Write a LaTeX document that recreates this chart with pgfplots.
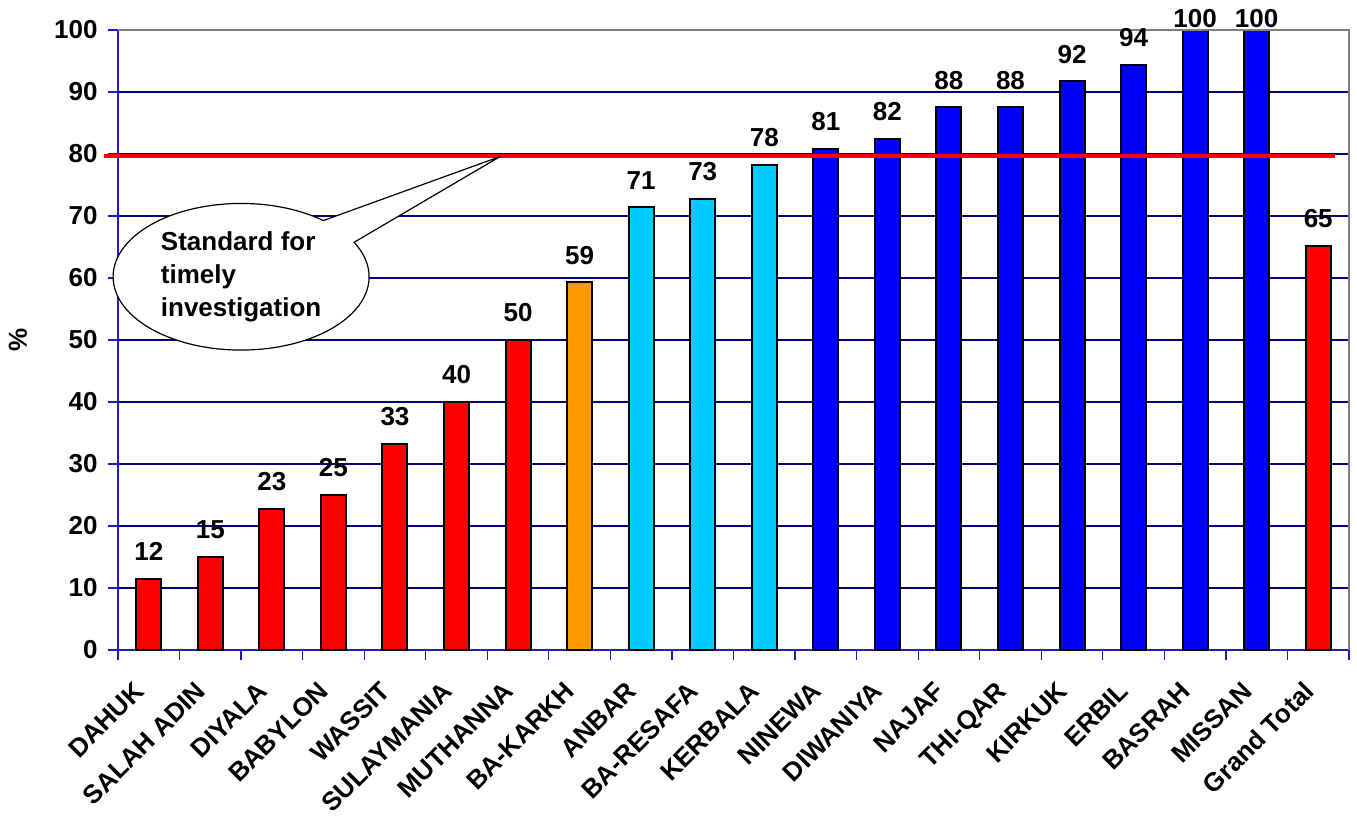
\documentclass[border=0pt]{standalone}
\usepackage{fontspec}
\setmainfont{Liberation Sans}
\usepackage{pgfplots}
\pgfplotsset{compat=1.18}
\usetikzlibrary{calc,shapes.callouts}
\definecolor{barred}{RGB}{255,0,0}
\definecolor{barorange}{RGB}{255,153,0}
\definecolor{barcyan}{RGB}{0,204,255}
\definecolor{barblue}{RGB}{0,0,255}
\definecolor{gridnavy}{RGB}{0,0,128}
\definecolor{axisblue}{RGB}{30,30,190}
\begin{document}
\begin{tikzpicture}[font=\bfseries\fontsize{13}{16.5}\selectfont]
\begin{axis}[name=ax,
  width=615.5pt, height=310pt, scale only axis,
  xmin=-0.5, xmax=19.5, ymin=0, ymax=100,
  ytick={0,10,...,100},
  xtick={0,...,19},
  xticklabels={DAHUK,SALAH ADIN,DIYALA,BABYLON,WASSIT,SULAYMANIA,MUTHANNA,BA-KARKH,ANBAR,BA-RESAFA,KERBALA,NINEWA,DIWANIYA,NAJAF,THI-QAR,KIRKUK,ERBIL,BASRAH,MISSAN,Grand Total},
  minor xtick={-0.5,0.5,...,19.5},
  xticklabel style={xshift=-8pt, yshift=-7pt, rotate=45, anchor=north east, inner sep=2pt},
  yticklabel style={inner sep=2pt, xshift=-3pt},
  /pgf/number format/assume math mode=true,
  axis x line*=bottom, axis y line*=left,
  x axis line style={-, draw=axisblue, line width=0.8pt},
  y axis line style={-, draw=axisblue, line width=0.8pt},
  tick align=outside, major tick length=5pt, minor tick length=5pt,
  tick style={draw=axisblue, line width=0.6pt},
  major x tick style={draw=none},
  ymajorgrids, major grid style={draw=gridnavy, line width=0.6pt},
  ylabel={\%},
  ylabel style={at={(axis description cs:-0.0812,0.5)}, anchor=center},
  ybar, bar width=12.5pt, bar shift=0pt,
  every axis plot/.append style={draw=black, line width=1pt},
  point meta=explicit symbolic,
  nodes near coords,
  nodes near coords style={inner sep=0pt, anchor=south, yshift=8.5pt, text=black},
  clip=false,
]
\addplot[fill=barred] table[meta=lab] {
x y lab
0 11.5 12
1 15.0 15
2 22.7 23
3 25.0 25
4 33.3 33
5 40.0 40
6 50.0 50
19 65.2 65
};
\addplot[fill=barorange] table[meta=lab] {
x y lab
7 59.3 59
};
\addplot[fill=barcyan] table[meta=lab] {
x y lab
8 71.4 71
9 72.7 73
10 78.3 78
};
\addplot[fill=barblue] table[meta=lab] {
x y lab
11 80.8 81
12 82.4 82
13 87.5 88
14 87.5 88
15 91.7 92
16 94.4 94
};
\addplot[fill=barblue, nodes near coords style={yshift=-8pt}] table[meta=lab] {
x y lab
17 100 100
18 100 100
};
\draw[gray, line width=0.8pt] (rel axis cs:0,1) -- (rel axis cs:1,1) -- (rel axis cs:1,0);
\draw[barred, line width=2pt] (axis cs:-0.73,79.6) -- (axis cs:19.27,79.6);
\node[ellipse callout, draw=black, fill=white, line width=0.6pt,
  minimum width=128pt, minimum height=73pt, callout pointer arc=22,
  callout absolute pointer={(axis cs:5.71,79.6)}, align=left]
  at (axis cs:1.5,60.2) {Standard for\\timely\\investigation};
\end{axis}
\pgfresetboundingbox
\path ($(ax.south west)+(-59pt,-84.5pt)$) rectangle ($(ax.north east)+(4pt,15pt)$);
\end{tikzpicture}
\end{document}
